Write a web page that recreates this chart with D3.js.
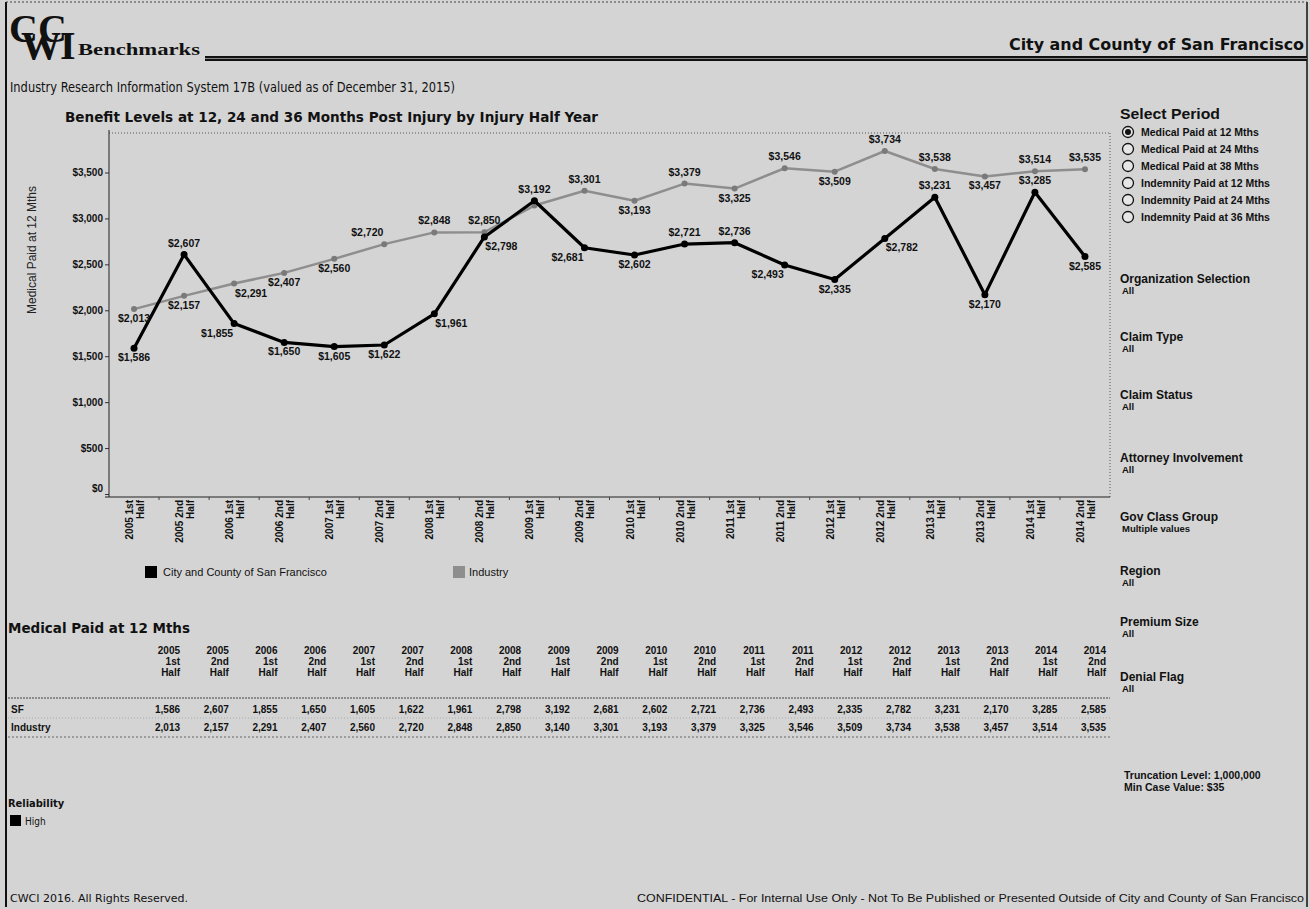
<!DOCTYPE html>
<html>
<head>
<meta charset="utf-8">
<script src="https://cdn.jsdelivr.net/npm/d3@7/dist/d3.min.js"></script>
<style>
body { margin: 0; background: #d4d4d4; }
svg { display: block; font-family: "Liberation Sans", Arial, sans-serif; }
.bold { font-weight: bold; }
.treb { font-family: "DejaVu Sans Condensed", "DejaVu Sans", sans-serif; }
</style>
</head>
<body>
<svg id="chart" width="1310" height="909"></svg>
<script>
// half year periods
var periods = ["2005 1st Half", "2005 2nd Half", "2006 1st Half", "2006 2nd Half",
  "2007 1st Half", "2007 2nd Half", "2008 1st Half", "2008 2nd Half",
  "2009 1st Half", "2009 2nd Half", "2010 1st Half", "2010 2nd Half",
  "2011 1st Half", "2011 2nd Half", "2012 1st Half", "2012 2nd Half",
  "2013 1st Half", "2013 2nd Half", "2014 1st Half", "2014 2nd Half"];

var sfValues = [1586, 2607, 1855, 1650, 1605, 1622, 1961, 2798, 3192, 2681,
  2602, 2721, 2736, 2493, 2335, 2782, 3231, 2170, 3285, 2585];

var industryValues = [2013, 2157, 2291, 2407, 2560, 2720, 2848, 2850, 3140, 3301,
  3193, 3379, 3325, 3546, 3509, 3734, 3538, 3457, 3514, 3535];

var yTicks = [0, 500, 1000, 1500, 2000, 2500, 3000, 3500];

// where each mark label sits (t = top, b = below, l/r = shifted), "" = hidden
var sfLabelSide = ["b", "t", "bl", "b", "b", "b", "br", "br", "t", "bl",
  "b", "t", "t", "bl", "b", "br", "t", "b", "t", "b"];
var industryLabelSide = ["b", "b", "br", "b", "b", "tl", "t", "t", "", "t",
  "b", "t", "b", "t", "b", "t", "t", "b", "t", "t"];

var selectPeriods = ["Medical Paid at 12 Mths", "Medical Paid at 24 Mths", "Medical Paid at 38 Mths",
  "Indemnity Paid at 12 Mths", "Indemnity Paid at 24 Mths", "Indemnity Paid at 36 Mths"];

var filterNames = ["Organization Selection", "Claim Type", "Claim Status", "Attorney Involvement",
  "Gov Class Group", "Region", "Premium Size", "Denial Flag"];
var filterValues = ["All", "All", "All", "All", "Multiple values", "All", "All", "All"];
var filterY = [279, 337, 395, 458, 517, 571, 622, 677];

var svg = d3.select("#chart");
var fmt = d3.format(",");

// page frame
svg.append("rect").attr("x", 0).attr("y", 0).attr("width", 1310).attr("height", 909).attr("fill", "#d4d4d4");
svg.append("line").attr("x1", 6).attr("x2", 6).attr("y1", 2).attr("y2", 907).attr("stroke", "#111").attr("stroke-width", 2);
svg.append("line").attr("x1", 1307).attr("x2", 1307).attr("y1", 2).attr("y2", 907).attr("stroke", "#111").attr("stroke-width", 1.5);
svg.append("line").attr("x1", 6).attr("x2", 1307).attr("y1", 2).attr("y2", 2).attr("stroke", "#444").attr("stroke-width", 1).attr("stroke-dasharray", "2,2");

// ---- header ----
// logo: one text node, glyphs placed one by one so they interlock like the mark
svg.append("text").attr("font-family", "\"Liberation Serif\", serif").attr("font-weight", "bold")
  .attr("font-size", 40).attr("fill", "#111")
  .attr("x", "9 21 38 60").attr("y", "42 59 42 59")
  .text("CWCI");
svg.append("text").attr("font-family", "\"Liberation Serif\", serif").attr("font-weight", "bold")
  .attr("x", 78).attr("y", 55).attr("font-size", 16).attr("textLength", 122)
  .attr("lengthAdjust", "spacingAndGlyphs").attr("fill", "#111").text("Benchmarks");

svg.append("rect").attr("x", 205).attr("y", 56).attr("width", 1102).attr("height", 5).attr("fill", "#111");
svg.append("line").attr("x1", 205).attr("x2", 1307).attr("y1", 58.5).attr("y2", 58.5).attr("stroke", "#888").attr("stroke-width", 1);

svg.append("text").attr("class", "treb bold").attr("x", 1304).attr("y", 50).attr("text-anchor", "end")
  .attr("font-size", 16).attr("textLength", 295).attr("lengthAdjust", "spacingAndGlyphs")
  .attr("fill", "#111").text("City and County of San Francisco");

svg.append("text").attr("class", "treb").attr("x", 10).attr("y", 92).attr("font-size", 14)
  .attr("textLength", 445).attr("lengthAdjust", "spacingAndGlyphs").attr("fill", "#111")
  .text("Industry Research Information System 17B (valued as of December 31, 2015)");

svg.append("text").attr("class", "treb bold").attr("x", 65).attr("y", 122).attr("font-size", 14)
  .attr("textLength", 533).attr("lengthAdjust", "spacingAndGlyphs").attr("fill", "#111")
  .text("Benefit Levels at 12, 24 and 36 Months Post Injury by Injury Half Year");

// ---- chart ----
var plotLeft = 109, plotRight = 1110, plotTop = 133, axisY = 497;

var x = d3.scaleBand().domain(periods).range([plotLeft, plotRight]);
var y = d3.scaleLinear().domain([0, 3930]).range([494, plotTop]);
var cx = function (p) { return x(p) + x.bandwidth() / 2; };

// plot frame (dotted top and right)
svg.append("line").attr("x1", plotLeft).attr("x2", plotRight).attr("y1", plotTop).attr("y2", plotTop)
  .attr("stroke", "#555").attr("stroke-dasharray", "1,2");
svg.append("line").attr("x1", plotRight).attr("x2", plotRight).attr("y1", plotTop).attr("y2", axisY)
  .attr("stroke", "#555").attr("stroke-dasharray", "1,2");

var yAxis = svg.append("g").attr("transform", "translate(" + plotLeft + ",0)")
  .call(d3.axisLeft(y).tickValues(yTicks).tickSize(4).tickPadding(2)
    .tickFormat(function (d) { return "$" + fmt(d); }));
yAxis.select(".domain").remove();
yAxis.selectAll("line").attr("stroke", "#333");
yAxis.selectAll("text").attr("font-size", 10).attr("font-weight", "bold").attr("fill", "#111")
  .attr("font-family", "\"Liberation Sans\", Arial, sans-serif");
// the $0 label sits a little above its tick, as in the original
yAxis.selectAll(".tick").filter(function (d) { return d === 0; }).select("text").attr("dy", "-0.3em");

svg.append("line").attr("x1", plotLeft).attr("x2", plotLeft).attr("y1", plotTop - 3).attr("y2", axisY)
  .attr("stroke", "#222").attr("stroke-width", 1);
svg.append("line").attr("x1", plotLeft - 4).attr("x2", plotRight).attr("y1", axisY).attr("y2", axisY)
  .attr("stroke", "#222").attr("stroke-width", 1);

svg.append("text").attr("transform", "translate(36,250) rotate(-90)")
  .attr("text-anchor", "middle").attr("font-size", 12).attr("fill", "#222")
  .text("Medical Paid at 12 Mths");

// x ticks at band edges
svg.selectAll(".xtick").data(periods.slice(1)).enter().append("line")
  .attr("class", "xtick")
  .attr("x1", function (d) { return x(d); }).attr("x2", function (d) { return x(d); })
  .attr("y1", axisY).attr("y2", axisY + 3).attr("stroke", "#444");

var xLab = svg.selectAll(".xlab").data(periods).enter().append("text")
  .attr("class", "xlab")
  .attr("transform", function (d) { return "translate(" + cx(d) + "," + (axisY + 3) + ") rotate(-90)"; })
  .attr("text-anchor", "end").attr("font-size", 10).attr("font-weight", "bold").attr("fill", "#111");
xLab.append("tspan").attr("x", 0).attr("y", -1).text(function (d) { return d.replace(" Half", ""); });
xLab.append("tspan").attr("x", 0).attr("y", 10).text("Half");

var line = d3.line()
  .x(function (d, i) { return cx(periods[i]); })
  .y(function (d) { return y(d); });

svg.append("path").datum(industryValues).attr("d", line)
  .attr("fill", "none").attr("stroke", "#8e8e8e").attr("stroke-width", 2.5).attr("stroke-linejoin", "round");
svg.selectAll(".indDot").data(industryValues).enter().append("circle")
  .attr("class", "indDot").attr("cx", function (d, i) { return cx(periods[i]); }).attr("cy", y)
  .attr("r", 3).attr("fill", "#7a7a7a");

svg.append("path").datum(sfValues).attr("d", line)
  .attr("fill", "none").attr("stroke", "#000").attr("stroke-width", 3.2).attr("stroke-linejoin", "round");
svg.selectAll(".sfDot").data(sfValues).enter().append("circle")
  .attr("class", "sfDot").attr("cx", function (d, i) { return cx(periods[i]); }).attr("cy", y)
  .attr("r", 3.5).attr("fill", "#000");

function addLabels(values, sides, cls) {
  var shown = values.map(function (v, i) { return { v: v, i: i, s: sides[i] }; })
    .filter(function (d) { return d.s !== ""; });
  svg.selectAll("." + cls).data(shown).enter().append("text")
    .attr("class", cls)
    .attr("x", function (d) {
      var px = cx(periods[d.i]);
      if (d.s.indexOf("l") >= 0) return px - 17;
      if (d.s.indexOf("r") >= 0) return px + 17;
      return px;
    })
    .attr("y", function (d) {
      return d.s.charAt(0) === "t" ? y(d.v) - 8 : y(d.v) + 13;
    })
    .attr("text-anchor", "middle").attr("font-size", 10.5).attr("font-weight", "bold").attr("fill", "#111")
    .text(function (d) { return "$" + fmt(d.v); });
}
addLabels(industryValues, industryLabelSide, "indLab");
addLabels(sfValues, sfLabelSide, "sfLab");

// legend
svg.append("rect").attr("x", 145).attr("y", 566).attr("width", 12).attr("height", 12).attr("fill", "#000");
svg.append("text").attr("x", 163).attr("y", 576).attr("font-size", 11).attr("fill", "#111").text("City and County of San Francisco");
svg.append("rect").attr("x", 453).attr("y", 566).attr("width", 12).attr("height", 12).attr("fill", "#8e8e8e");
svg.append("text").attr("x", 469).attr("y", 576).attr("font-size", 11).attr("fill", "#111").text("Industry");

// ---- right panel ----
svg.append("text").attr("x", 1120).attr("y", 119).attr("font-size", 15).attr("font-weight", "bold")
  .attr("textLength", 100).attr("lengthAdjust", "spacingAndGlyphs")
  .attr("fill", "#111").text("Select Period");

var radio = svg.selectAll(".radio").data(selectPeriods).enter().append("g")
  .attr("class", "radio")
  .attr("transform", function (d, i) { return "translate(1128," + (132 + i * 17) + ")"; });
radio.append("circle").attr("r", 5.5).attr("fill", "#e6e6e6").attr("stroke", "#111").attr("stroke-width", 1.3);
radio.filter(function (d, i) { return i === 0; }).append("circle").attr("r", 3).attr("fill", "#111");
radio.append("text").attr("x", 13).attr("y", 4).attr("font-size", 10.5).attr("font-weight", "bold")
  .attr("fill", "#111").text(function (d) { return d; });

var filt = svg.selectAll(".filt").data(filterNames).enter().append("g")
  .attr("class", "filt")
  .attr("transform", function (d, i) { return "translate(1120," + filterY[i] + ")"; });
filt.append("text").attr("y", 4).attr("font-size", 12).attr("font-weight", "bold").attr("fill", "#111")
  .text(function (d) { return d; });
filt.append("text").attr("x", 2).attr("y", 15).attr("font-size", 9.5).attr("font-weight", "bold").attr("fill", "#111")
  .text(function (d, i) { return filterValues[i]; });

svg.append("text").attr("x", 1124).attr("y", 779).attr("font-size", 10.5).attr("font-weight", "bold")
  .attr("fill", "#111").text("Truncation Level: 1,000,000");
svg.append("text").attr("x", 1124).attr("y", 791).attr("font-size", 10.5).attr("font-weight", "bold")
  .attr("fill", "#111").text("Min Case Value: $35");

// ---- table ----
svg.append("text").attr("class", "treb bold").attr("x", 8).attr("y", 633).attr("font-size", 14)
  .attr("textLength", 182).attr("lengthAdjust", "spacingAndGlyphs").attr("fill", "#111")
  .text("Medical Paid at 12 Mths");

var col = d3.scaleBand().domain(periods).range([131.3, 1106]);
var colRight = function (p) { return col(p) + col.bandwidth(); };

var head = svg.selectAll(".thead").data(periods).enter().append("text")
  .attr("class", "thead").attr("text-anchor", "end")
  .attr("font-size", 10).attr("font-weight", "bold").attr("fill", "#111");
head.append("tspan").attr("x", colRight).attr("y", 654).text(function (d) { return d.split(" ")[0]; });
head.append("tspan").attr("x", colRight).attr("y", 665).text(function (d) { return d.split(" ")[1]; });
head.append("tspan").attr("x", colRight).attr("y", 676).text(function (d) { return d.split(" ")[2]; });

svg.append("line").attr("x1", 8).attr("x2", 1110).attr("y1", 698).attr("y2", 698)
  .attr("stroke", "#444").attr("stroke-dasharray", "2,1");
svg.append("line").attr("x1", 8).attr("x2", 1110).attr("y1", 718).attr("y2", 718)
  .attr("stroke", "#aaa").attr("stroke-dasharray", "1,2");
svg.append("line").attr("x1", 8).attr("x2", 1110).attr("y1", 737).attr("y2", 737)
  .attr("stroke", "#666").attr("stroke-dasharray", "2,2");

var rows = [["SF", sfValues, 713], ["Industry", industryValues, 731]];
rows.forEach(function (r) {
  svg.append("text").attr("x", 11).attr("y", r[2]).attr("font-size", 10).attr("font-weight", "bold")
    .attr("fill", "#111").text(r[0]);
  svg.selectAll(".cell" + r[0]).data(r[1]).enter().append("text")
    .attr("x", function (d, i) { return colRight(periods[i]); }).attr("y", r[2])
    .attr("text-anchor", "end").attr("font-size", 10).attr("font-weight", "bold").attr("fill", "#111")
    .text(function (d) { return fmt(d); });
});

// reliability
svg.append("text").attr("class", "treb bold").attr("x", 8).attr("y", 807).attr("font-size", 11).attr("fill", "#111").text("Reliability");
svg.append("rect").attr("x", 10).attr("y", 815).attr("width", 11).attr("height", 11).attr("fill", "#000");
svg.append("text").attr("class", "treb").attr("x", 25).attr("y", 825).attr("font-size", 10).attr("fill", "#111").text("High");

// footer
svg.append("text").attr("class", "treb").attr("x", 10).attr("y", 902).attr("font-size", 11)
  .attr("textLength", 178).attr("lengthAdjust", "spacingAndGlyphs").attr("fill", "#111")
  .text("CWCI 2016.  All Rights Reserved.");
svg.append("text").attr("x", 1304).attr("y", 902).attr("text-anchor", "end").attr("font-size", 11)
  .attr("textLength", 667).attr("lengthAdjust", "spacingAndGlyphs").attr("fill", "#111")
  .text("CONFIDENTIAL - For Internal Use Only - Not To Be Published or Presented Outside of City and County of San Francisco");
</script>
</body>
</html>
